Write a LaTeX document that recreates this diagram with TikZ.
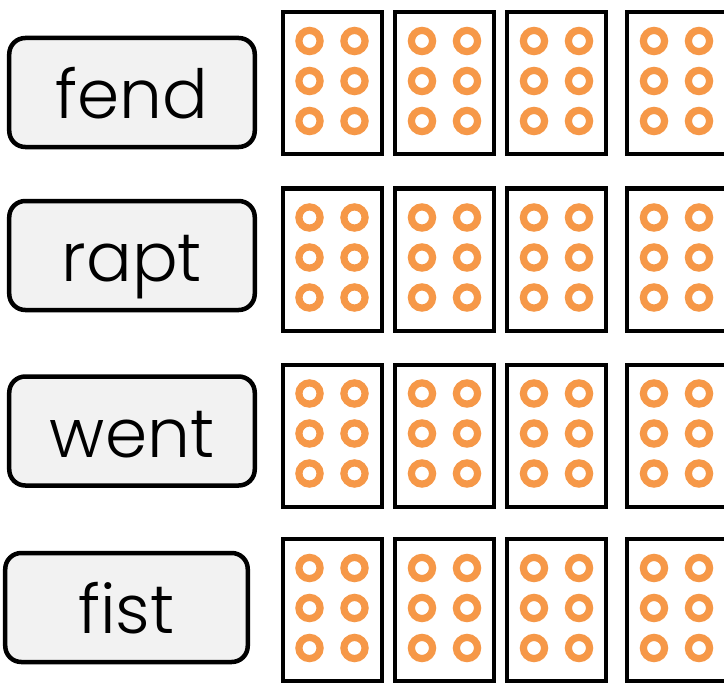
\documentclass[tikz,border=0pt]{standalone}
\usepackage{fontspec}
\setmainfont{Poppins}[UprightFont={* Light}]
\usetikzlibrary{positioning}
\definecolor{lightgraybox}{RGB}{242,242,242}
\definecolor{accentorange}{RGB}{246,152,72}
\tikzset{
  wordbox/.style={
    rectangle, rounded corners=16bp, draw=black, line width=4.5bp, fill=lightgraybox,
    minimum width=245.5bp, minimum height=109bp, inner sep=0pt,
    text height=52bp, text depth=0bp, font=\fontsize{68}{76}\selectfont
  },
  cellbox/.style={rectangle, draw=black, line width=4bp, fill=white, minimum width=99bp, minimum height=142bp, inner sep=0pt},
  dotring/.style={draw=accentorange, line width=7.2bp}
}
\begin{document}
\begin{tikzpicture}[x=1bp, y=-1bp]
  \clip (0,0) rectangle (724,683);
  \node[wordbox] (fend) at (132,92.5) {fend};
  \node[wordbox] (rapt) at (132,255.5) {rapt};
  \node[wordbox] (went) at (132,431) {went};
  \node[wordbox, minimum width=242.5bp] (fist) at (126.5,607.5) {fist};

  % braille cells, four per word
  \foreach \word/\yc in {fend/83,rapt/259.5,went/435.5,fist/610}{
    \foreach \col/\xc in {A/332,B/444.5,C/556.5,D/676.5}{
      \node[cellbox] (\word\col) at (\xc,\yc) {};
      \foreach \dx in {-22.5,22.5}
        \foreach \dy in {-42,-2,38}
          \draw[dotring] ([shift={(\dx,\dy)}]\word\col.center) circle[radius=10.6bp];
    }
  }
\end{tikzpicture}
\end{document}
